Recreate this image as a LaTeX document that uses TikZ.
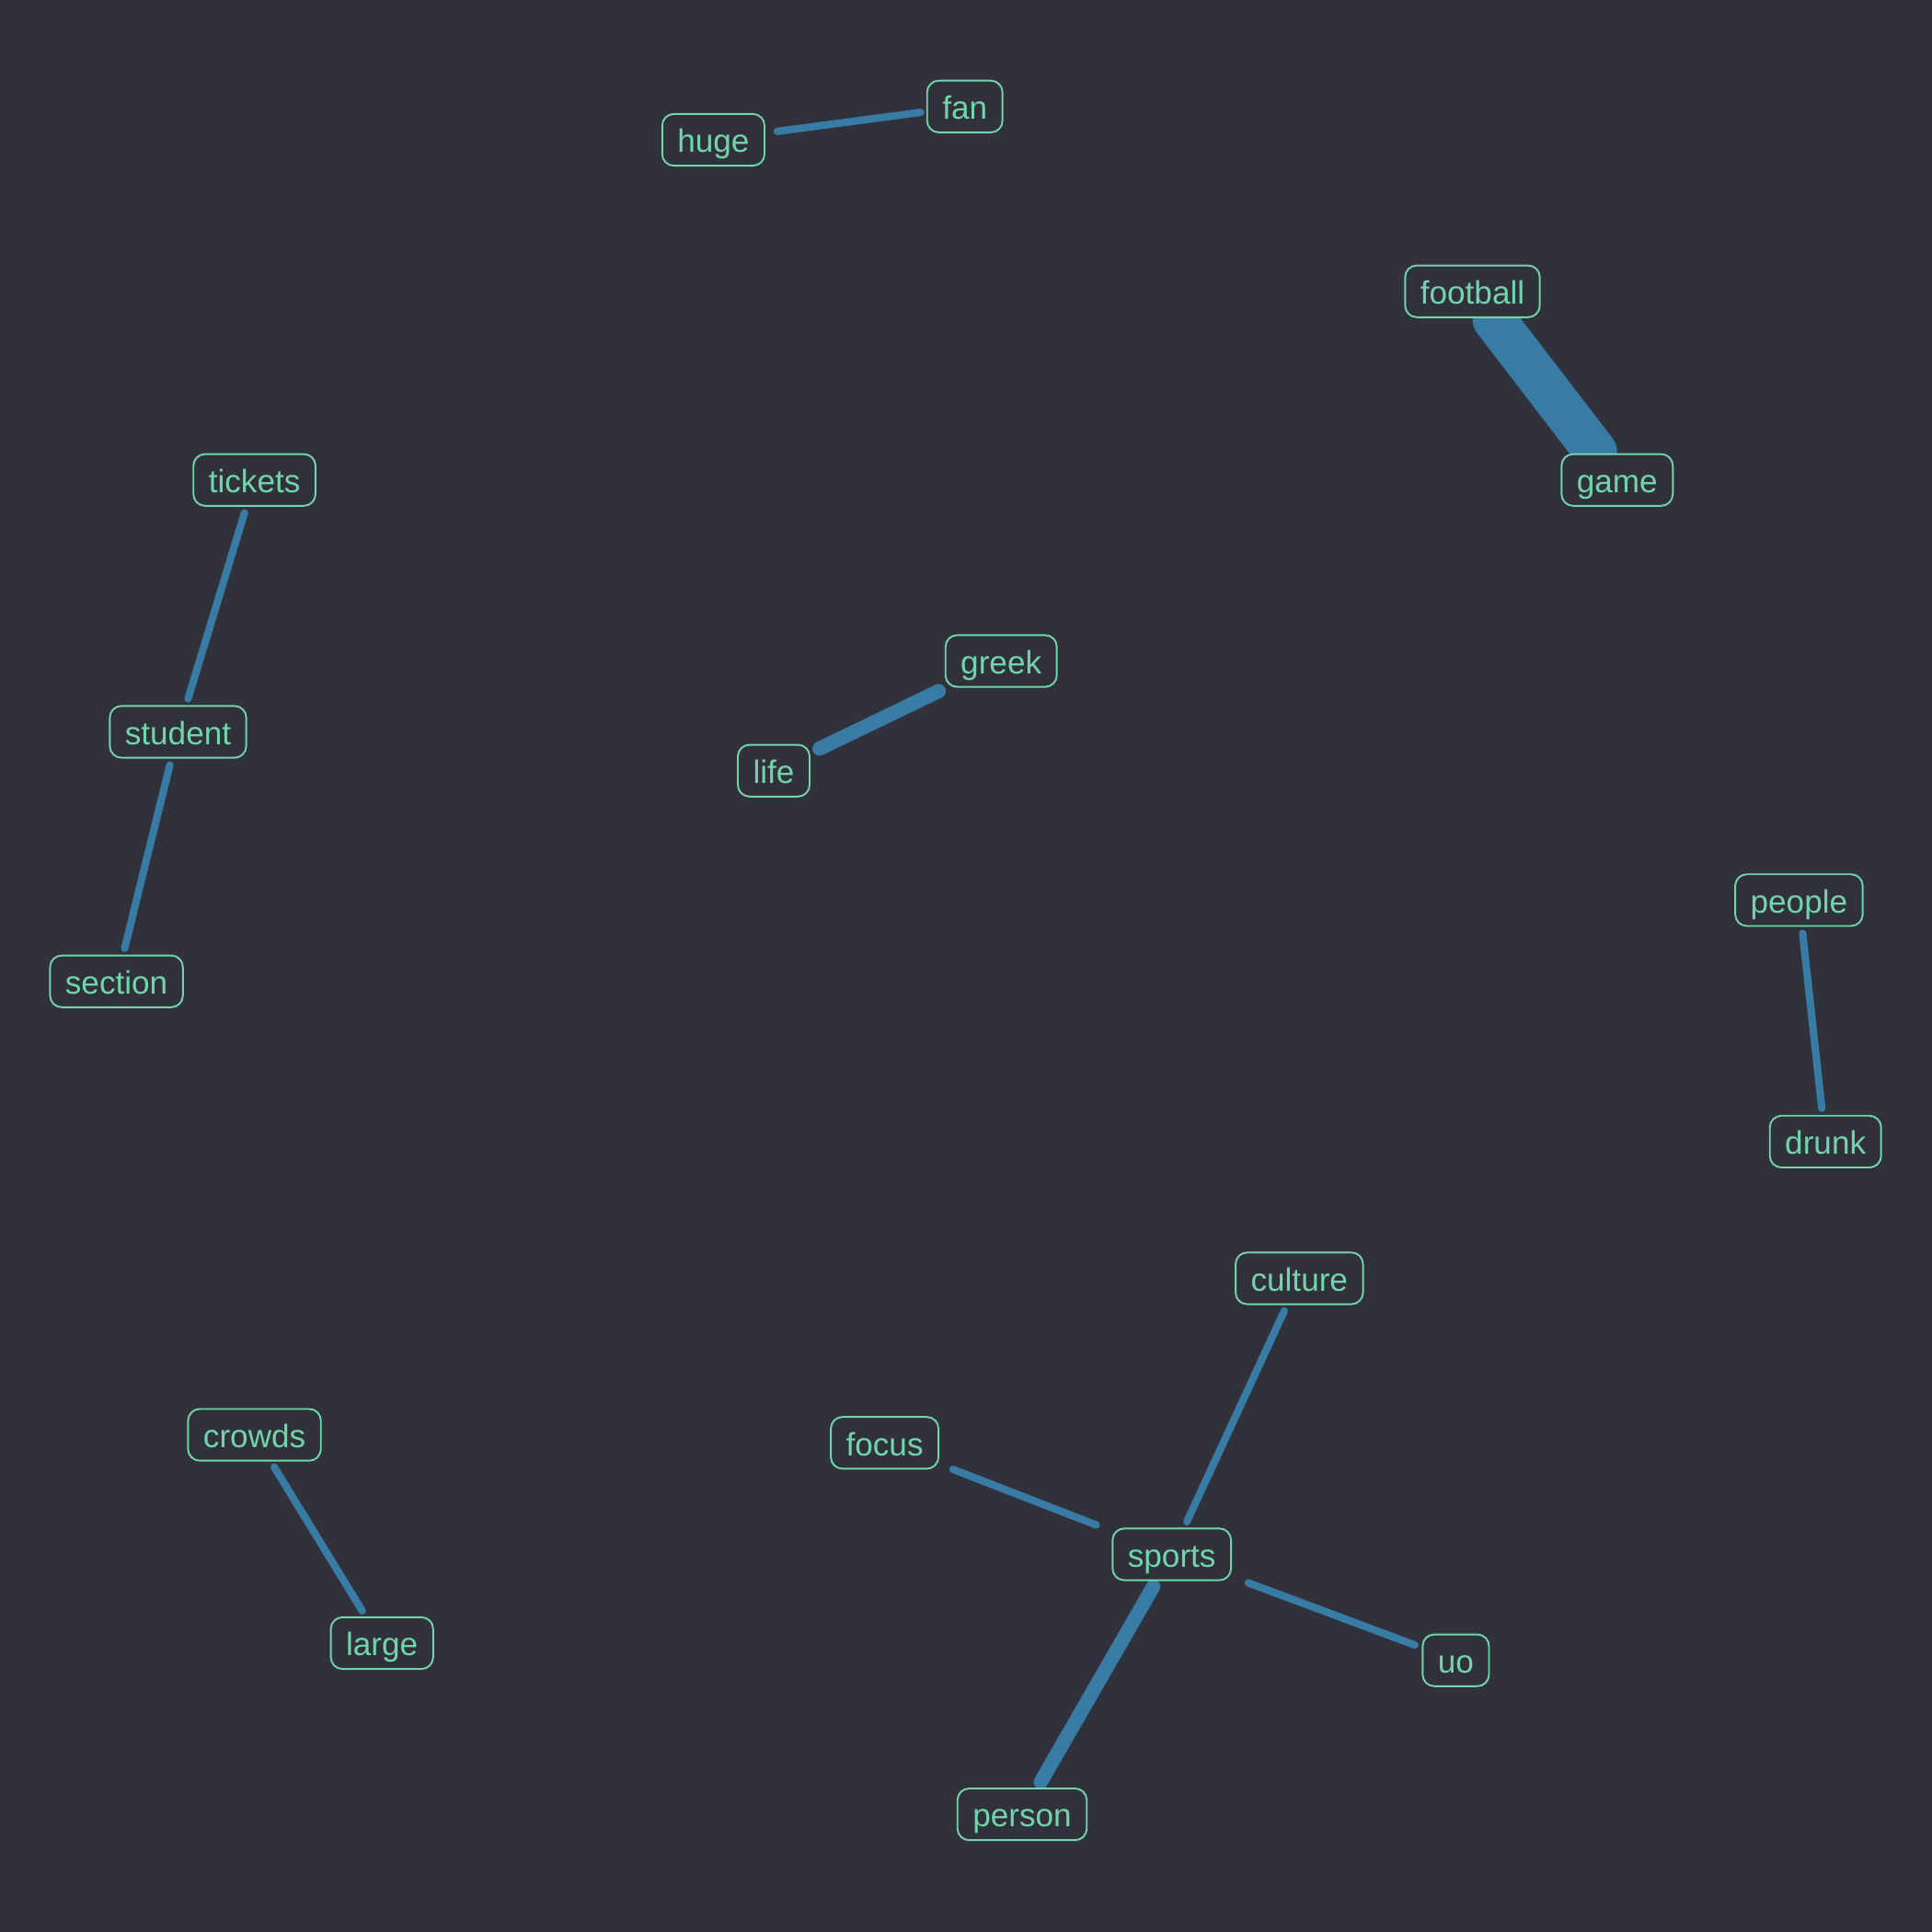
\documentclass[tikz,border=0pt]{standalone}
\usepackage{fontspec}
\setmainfont{Liberation Sans}
\definecolor{bgc}{RGB}{48,49,59}
\definecolor{lbl}{RGB}{114,212,170}
\definecolor{edg}{RGB}{56,124,165}
\pgfdeclarelayer{bgl}
\pgfdeclarelayer{edgel}
\pgfsetlayers{bgl,edgel,main}
\tikzset{
  word/.style={draw=lbl, text=lbl, fill=bgc, line width=0.55pt, rounded corners=3.6pt,
    font=\fontsize{10}{12}\selectfont, inner xsep=4.7pt, inner ysep=1.7pt,
    text height=10.2pt, text depth=2.4pt, minimum height=15.9pt, outer sep=0pt},
  thinlink/.style={draw=edg, line width=2.3pt, line cap=round, shorten <=2.3pt, shorten >=2.3pt},
  midlink/.style={draw=edg, line width=4.4pt, line cap=round},
  thicklink/.style={draw=edg, line width=13.4pt, line cap=round, shorten <=1pt, shorten >=1pt}
}
\begin{document}
\begin{tikzpicture}
\begin{pgfonlayer}{bgl}
\fill[bgc] (0,0) rectangle (21,21);
\end{pgfonlayer}
\useasboundingbox (0,0) rectangle (21,21);
\node[word] (fan) at (10.487,19.842) {fan};
\node[word] (huge) at (7.754,19.48) {huge};
\node[word] (football) at (16.005,17.833) {football};
\node[word] (game) at (17.578,15.783) {game};
\node[word] (tickets) at (2.766,15.783) {tickets};
\node[word] (student) at (1.935,13.045) {student};
\node[word] (section) at (1.266,10.333) {section};
\node[word] (greek) at (10.882,13.815) {greek};
\node[word] (life) at (8.41,12.623) {life};
\node[word] (people) at (19.554,11.216) {people};
\node[word] (drunk) at (19.842,8.591) {drunk};
\node[word] (culture) at (14.123,7.105) {culture};
\node[word] (focus) at (9.616,5.317) {focus};
\node[word] (sports) at (12.737,4.105) {sports};
\node[word] (uo) at (15.824,2.953) {uo};
\node[word] (person) at (11.11,1.279) {person};
\node[word] (crowds) at (2.766,5.404) {crowds};
\node[word] (large) at (4.152,3.14) {large};
\begin{pgfonlayer}{edgel}
\draw[thinlink, shorten <=4pt, shorten >=2pt] (huge) -- (fan);
\draw[thicklink] (football) -- (game);
\draw[thinlink] (tickets) -- (student);
\draw[thinlink] (student) -- (section);
\draw[midlink, shorten <=3.4pt, shorten >=3pt] (life) -- (greek);
\draw[thinlink] (people) -- (drunk);
\draw[thinlink] (culture) -- (sports);
\draw[thinlink, shorten <=4.8pt, shorten >=5.4pt] (focus) -- (sports);
\draw[thinlink, shorten <=5.7pt, shorten >=2.6pt] (sports) -- (uo);
\draw[midlink, shorten <=2.3pt, shorten >=2.3pt] (sports) -- (person);
\draw[thinlink] (crowds) -- (large);
\end{pgfonlayer}
\end{tikzpicture}
\end{document}
